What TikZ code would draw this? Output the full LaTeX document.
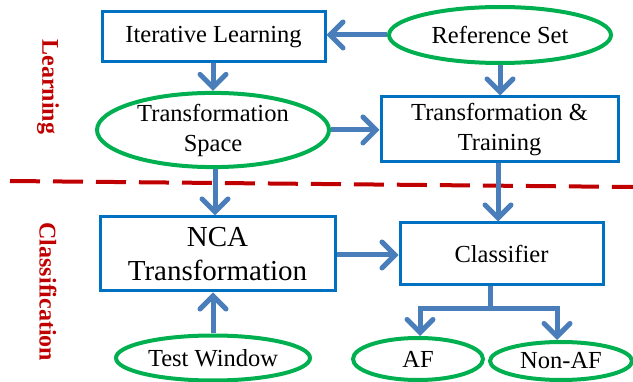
\documentclass[tikz,border=0pt]{standalone}
\usepackage{fontspec}
\setmainfont{Liberation Serif}
\newfontfamily\tnr{Liberation Serif}
\usetikzlibrary{arrows.meta,shapes.geometric}
\definecolor{boxblue}{RGB}{0,112,192}
\definecolor{arrblue}{RGB}{74,126,187}
\definecolor{ellgreen}{RGB}{0,176,80}
\definecolor{dred}{RGB}{192,0,0}
\tikzset{
  boxnode/.style={draw=boxblue, line width=3pt, rectangle, inner sep=0pt, align=center,
    font=\tnr\fontsize{24.5}{30}\selectfont},
  ellnode/.style={draw=ellgreen, line width=4pt, ellipse, inner sep=0pt, align=center,
    font=\tnr\fontsize{24.5}{30}\selectfont},
  arr/.style={draw=arrblue, line width=5pt, -{Straight Barb[length=13pt,width=26pt,line cap=round]}},
  lnk/.style={draw=arrblue, line width=5pt},
  sidelabel/.style={text=dred, rotate=-90, font=\tnr\fontsize{24}{28}\selectfont\bfseries}
}
\begin{document}
\begin{tikzpicture}[x=1pt,y=-1pt]
\useasboundingbox (0,0) rectangle (633,382);
% boxes
\node[boxnode, minimum width=223pt, minimum height=50pt] (il) at (213.5,37) {Iterative Learning};
\node[boxnode, minimum width=237pt, minimum height=65pt] (tt) at (499.5,129.5) {Transformation \&\\Training};
\node[boxnode, minimum width=235pt, minimum height=74pt, font=\tnr\fontsize{29}{34}\selectfont] (nca) at (217.5,254) {NCA\\Transformation};
\node[boxnode, minimum width=203pt, minimum height=62pt] (cls) at (501.5,254) {Classifier};
% ellipses
\node[ellnode, minimum width=222pt, minimum height=56pt] (rs) at (500,35) {Reference Set};
\node[ellnode, minimum width=232pt, minimum height=72pt] (ts) at (213,130) {Transformation\\Space};
\node[ellnode, minimum width=194pt, minimum height=45pt] (tw) at (213,358) {Test Window};
\node[ellnode, minimum width=130pt, minimum height=42pt] (af) at (418,359) {AF};
\node[ellnode, minimum width=142pt, minimum height=38pt] (naf) at (561,361) {Non-AF};
% side labels
\node[sidelabel] (lbl1) at (48,87) {Learning};
\node[sidelabel] (lbl2) at (48,292) {Classification};
% dashed divider
\coordinate (dl) at (10,181);
\coordinate (dr) at (633,187);
\draw[dred, line width=4pt, dash pattern=on 30pt off 13pt] (dl) -- (dr);
% arrows
\draw[arr] (rs.west) -- (il.east |- rs.west);
\draw[arr] (il.south -| ts.north) -- (ts.north);
\draw[arr] (rs.south) -- (rs.south |- tt.north);
\draw[arr] (ts.east) -- (tt.west |- ts.east);
\draw[arr] ([xshift=2pt]ts.south) -- ([xshift=2pt]ts.south |- nca.north);
\draw[arr] (tw.north) -- (tw.north |- nca.south);
\draw[arr] ([yshift=-1pt]nca.east) -- ([yshift=-1pt]cls.west |- nca.east);
\draw[arr] ([xshift=-1.5pt]tt.south) -- ([xshift=-1.5pt]tt.south |- cls.north);
\coordinate (stem) at ([xshift=-11.5pt]cls.south);
\coordinate (fork) at ([yshift=-22pt]stem);
\draw[lnk] (stem) -- (fork);
\draw[arr] ([xshift=2.5pt]fork) -| ([xshift=2pt]af.north);
\draw[arr] ([xshift=-2.5pt]fork) -| ([xshift=-4pt]naf.north);
\end{tikzpicture}
\end{document}
